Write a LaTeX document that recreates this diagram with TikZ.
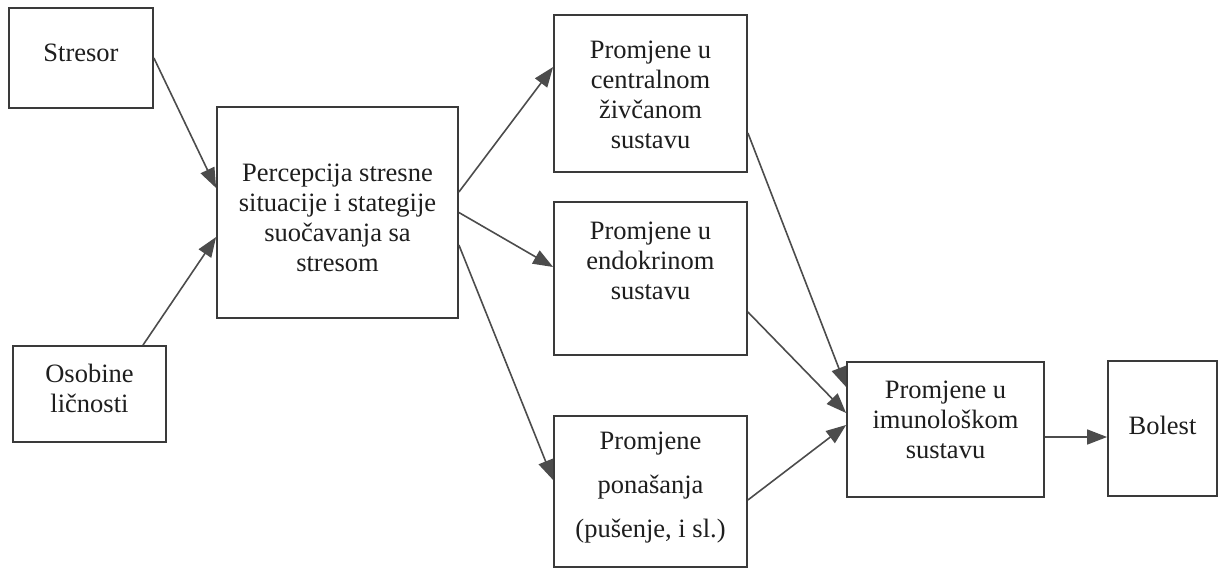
\documentclass[tikz,border=0pt]{standalone}
\usepackage{fontspec}
\setmainfont{Liberation Serif}
\usetikzlibrary{arrows.meta}
\definecolor{boxcol}{HTML}{3A3A3A}
\definecolor{linecol}{HTML}{4C4C4C}
\definecolor{txtcol}{HTML}{1E1E1E}
\tikzset{
  box/.style={draw=boxcol, line width=1.8pt, inner sep=0pt, fill=white},
  txt/.style={align=center, text=txtcol, inner sep=0pt, font=\fontsize{26.5}{30}\selectfont},
  arr/.style={draw=linecol, line width=1.6pt, -{Triangle[length=20pt,width=15pt]}, color=linecol},
}
\begin{document}
\begin{tikzpicture}[x=1pt,y=-1pt]
\useasboundingbox (0,0) rectangle (1218,568);
% boxes
\node[box, minimum width=144pt, minimum height=100pt] (stresor) at (81,58) {};
\node[box, minimum width=241pt, minimum height=211pt] (perc) at (337.5,212.5) {};
\node[box, minimum width=153pt, minimum height=96pt] (osob) at (89.5,394) {};
\node[box, minimum width=193pt, minimum height=157pt] (cns) at (650.5,93.5) {};
\node[box, minimum width=193pt, minimum height=153pt] (endo) at (650.5,278.5) {};
\node[box, minimum width=193pt, minimum height=151pt] (pon) at (650.5,491.5) {};
\node[box, minimum width=197pt, minimum height=135pt] (imuno) at (945.5,429.5) {};
\node[box, minimum width=109pt, minimum height=135pt] (bolest) at (1162.5,428.5) {};
% texts
\node[txt] (tstresor) at ([yshift=5pt]stresor.center) {Stresor};
\node[txt] (tperc) at ([yshift=-5.5pt]perc.center) {Percepcija stresne\\situacije i stategije\\suočavanja sa\\stresom};
\node[txt] (tosob) at ([yshift=5.5pt]osob.center) {Osobine\\ličnosti};
\node[txt] (tcns) at ([yshift=-1.5pt]cns.center) {Promjene u\\centralnom\\živčanom\\sustavu};
\node[txt] (tendo) at ([yshift=17.5pt]endo.center) {Promjene u\\endokrinom\\sustavu};
\node[txt, font=\fontsize{26.5}{44}\selectfont] (tpon) at ([yshift=4pt]pon.center) {Promjene\\ponašanja\\(pušenje, i sl.)};
\node[txt] (timuno) at ([yshift=9.5pt]imuno.center) {Promjene u\\imunološkom\\sustavu};
\node[txt] (tbolest) at ([yshift=3.5pt]bolest.center) {Bolest};
% connectors
\draw[arr] (stresor.east) -- ([yshift=24.5pt]perc.west);
\draw[arr] ([xshift=53.5pt]osob.north) -- ([yshift=-24.5pt]perc.west);
\draw[arr] ([yshift=20.5pt]perc.east) -- ([yshift=26.5pt]cns.west);
\draw[arr] (perc.east) -- ([yshift=11.5pt]endo.west);
\draw[arr] ([yshift=-32.5pt]perc.east) -- ([yshift=11.5pt]pon.west);
\draw[arr] ([yshift=-39.5pt]cns.east) -- ([yshift=42.5pt]imuno.west);
\draw[arr] ([yshift=-33.5pt]endo.east) -- ([yshift=16.5pt]imuno.west);
\draw[arr] ([yshift=-8.5pt]pon.east) -- ([yshift=4.5pt]imuno.west);
\draw[arr] ([yshift=-7.5pt]imuno.east) -- ([yshift=-8.5pt]bolest.west);
\end{tikzpicture}
\end{document}
